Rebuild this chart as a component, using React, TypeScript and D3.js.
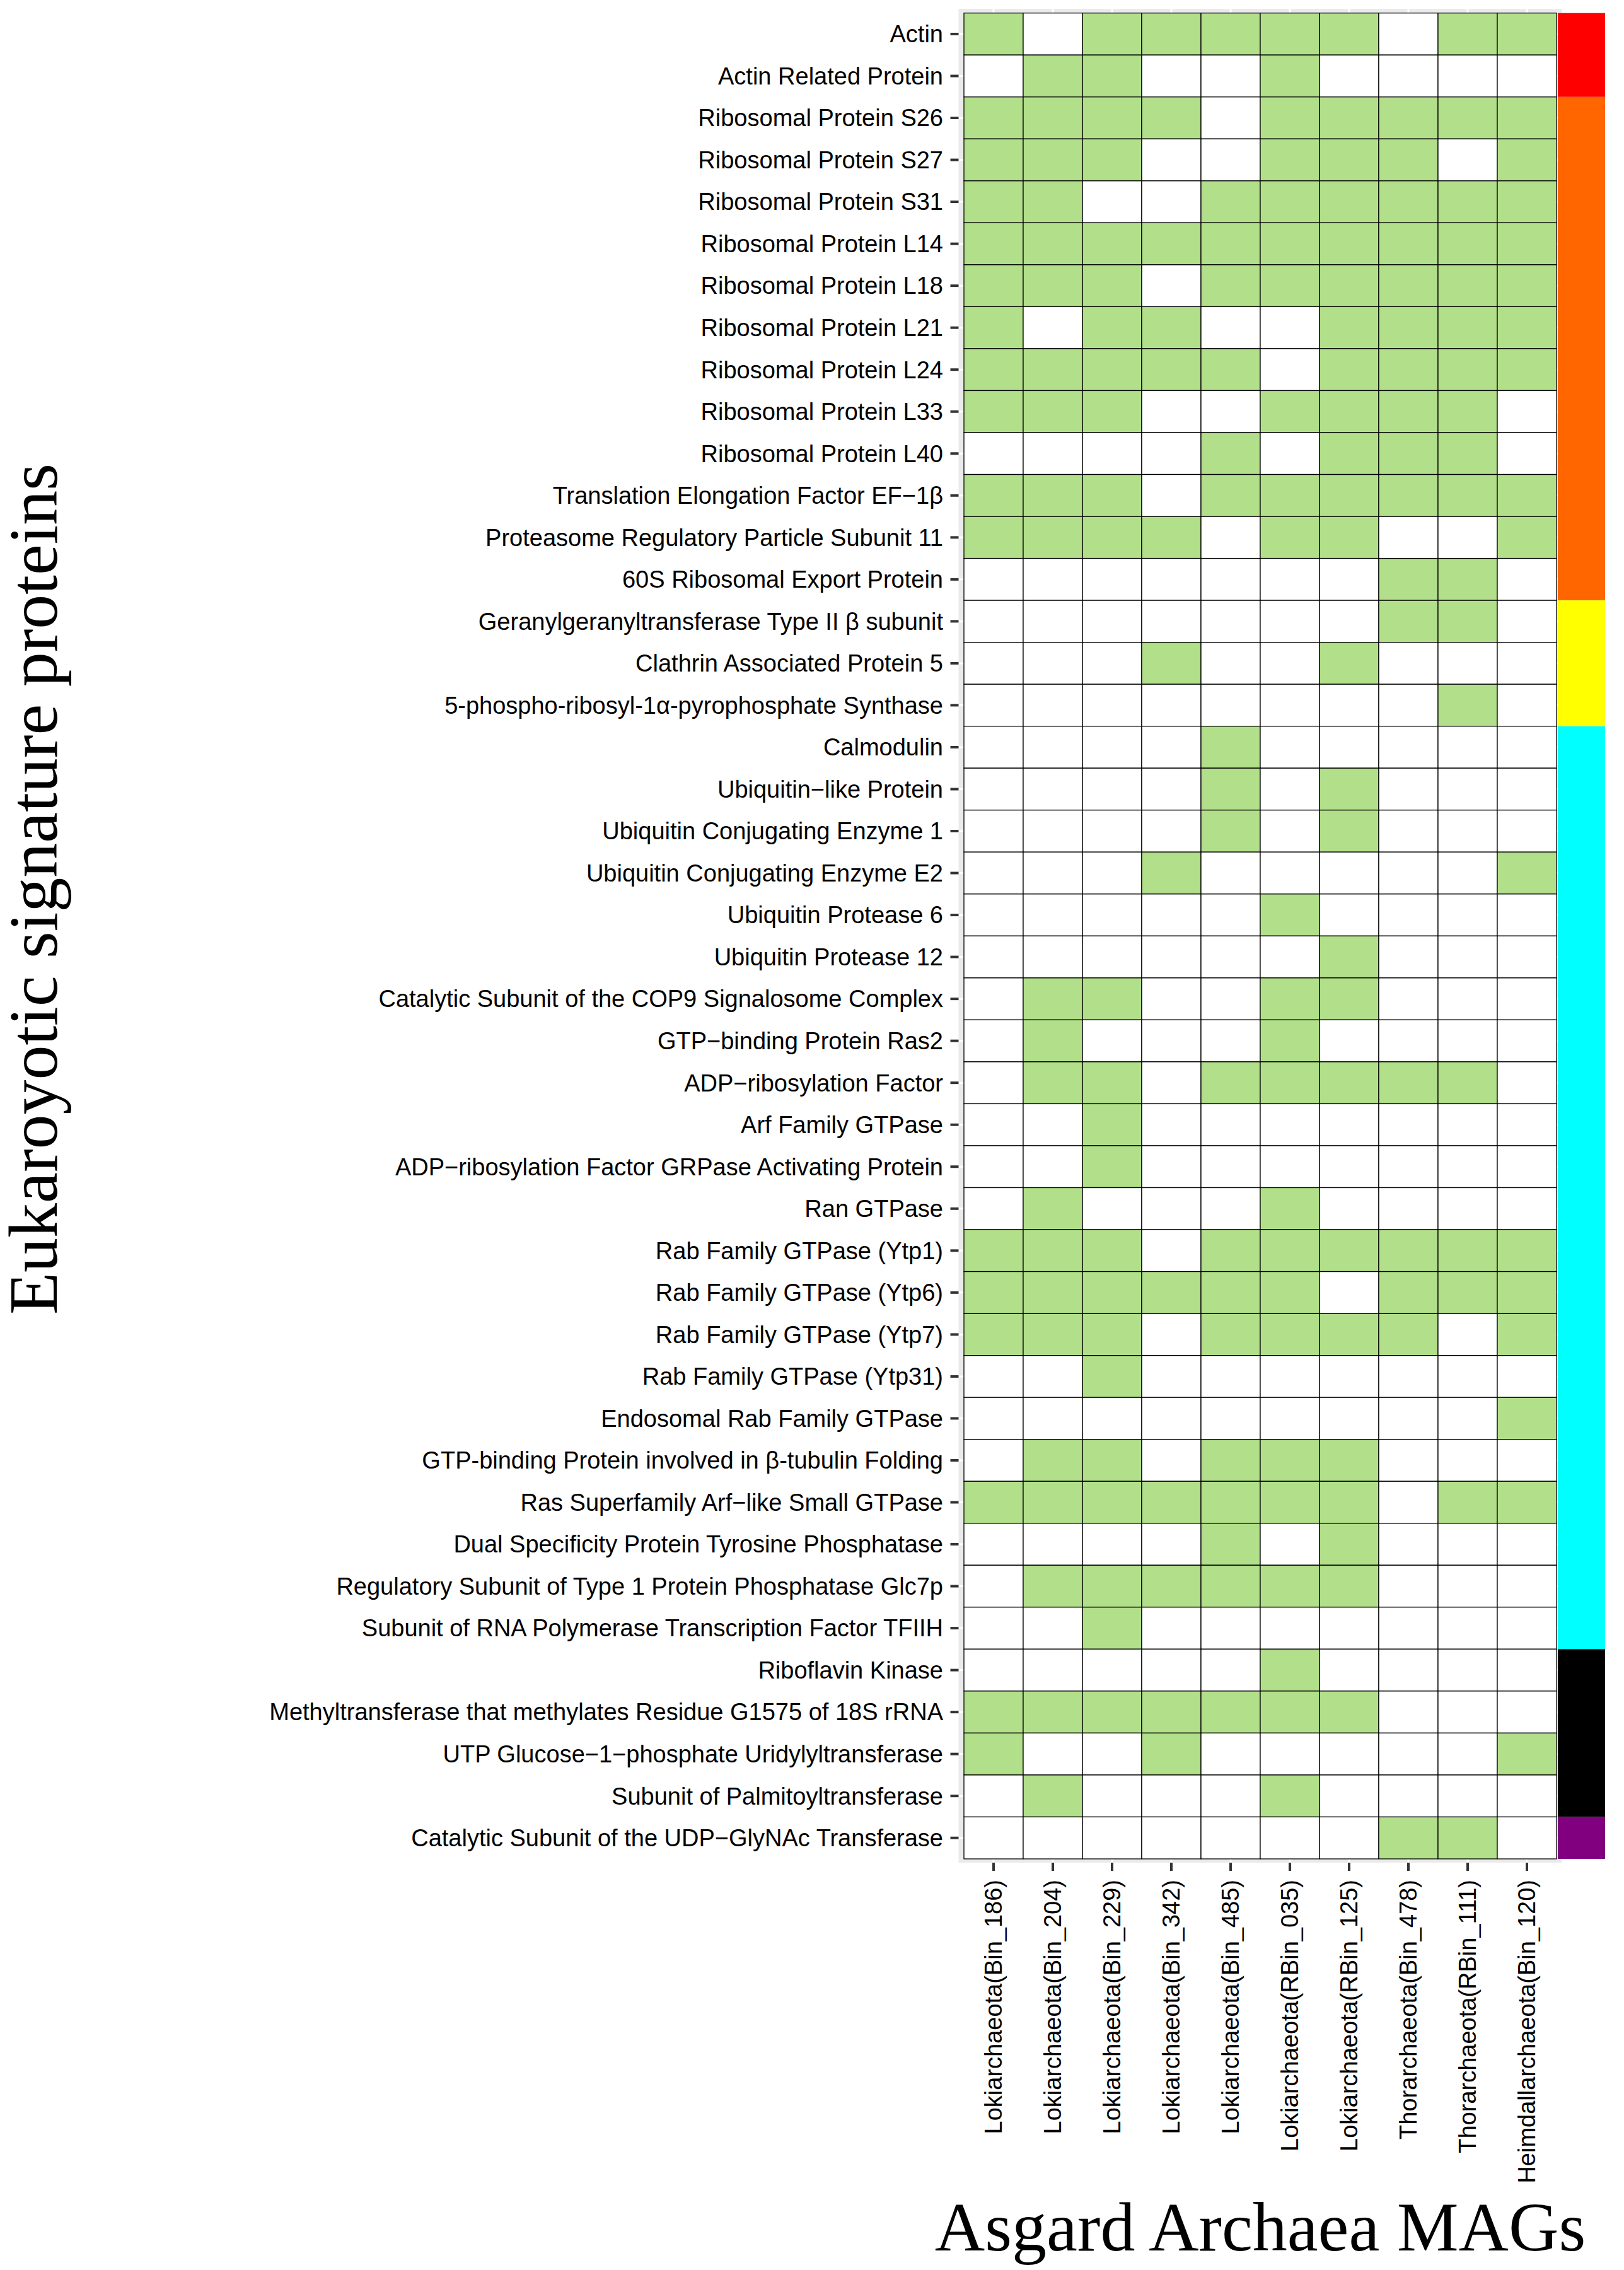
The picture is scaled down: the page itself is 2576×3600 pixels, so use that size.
import React from "react";
import * as d3 from "d3";

const proteins: string[] = [
  "Actin",
  "Actin Related Protein",
  "Ribosomal Protein S26",
  "Ribosomal Protein S27",
  "Ribosomal Protein S31",
  "Ribosomal Protein L14",
  "Ribosomal Protein L18",
  "Ribosomal Protein L21",
  "Ribosomal Protein L24",
  "Ribosomal Protein L33",
  "Ribosomal Protein L40",
  "Translation Elongation Factor EF\u22121\u03b2",
  "Proteasome Regulatory Particle Subunit 11",
  "60S Ribosomal Export Protein",
  "Geranylgeranyltransferase Type II \u03b2 subunit",
  "Clathrin Associated Protein 5",
  "5-phospho-ribosyl-1\u03b1-pyrophosphate Synthase",
  "Calmodulin",
  "Ubiquitin\u2212like Protein",
  "Ubiquitin Conjugating Enzyme 1",
  "Ubiquitin Conjugating Enzyme E2",
  "Ubiquitin Protease 6",
  "Ubiquitin Protease 12",
  "Catalytic Subunit of the COP9 Signalosome Complex",
  "GTP\u2212binding Protein Ras2",
  "ADP\u2212ribosylation Factor",
  "Arf Family GTPase",
  "ADP\u2212ribosylation Factor GRPase Activating Protein",
  "Ran GTPase",
  "Rab Family GTPase (Ytp1)",
  "Rab Family GTPase (Ytp6)",
  "Rab Family GTPase (Ytp7)",
  "Rab Family GTPase (Ytp31)",
  "Endosomal Rab Family GTPase",
  "GTP-binding Protein involved in \u03b2-tubulin Folding",
  "Ras Superfamily Arf\u2212like Small GTPase",
  "Dual Specificity Protein Tyrosine Phosphatase",
  "Regulatory Subunit of Type 1 Protein Phosphatase Glc7p",
  "Subunit of RNA Polymerase Transcription Factor TFIIH",
  "Riboflavin Kinase",
  "Methyltransferase that methylates Residue G1575 of 18S rRNA",
  "UTP Glucose\u22121\u2212phosphate Uridylyltransferase",
  "Subunit of Palmitoyltransferase",
  "Catalytic Subunit of the UDP\u2212GlyNAc Transferase",
];

const mags: string[] = [
  "Lokiarchaeota(Bin_186)",
  "Lokiarchaeota(Bin_204)",
  "Lokiarchaeota(Bin_229)",
  "Lokiarchaeota(Bin_342)",
  "Lokiarchaeota(Bin_485)",
  "Lokiarchaeota(RBin_035)",
  "Lokiarchaeota(RBin_125)",
  "Thorarchaeota(Bin_478)",
  "Thorarchaeota(RBin_111)",
  "Heimdallarchaeota(Bin_120)",
];

// presence (1) / absence (0), one row per protein, columns in order of mags
const presence: number[][] = [
  [1, 0, 1, 1, 1, 1, 1, 0, 1, 1],
  [0, 1, 1, 0, 0, 1, 0, 0, 0, 0],
  [1, 1, 1, 1, 0, 1, 1, 1, 1, 1],
  [1, 1, 1, 0, 0, 1, 1, 1, 0, 1],
  [1, 1, 0, 0, 1, 1, 1, 1, 1, 1],
  [1, 1, 1, 1, 1, 1, 1, 1, 1, 1],
  [1, 1, 1, 0, 1, 1, 1, 1, 1, 1],
  [1, 0, 1, 1, 0, 0, 1, 1, 1, 1],
  [1, 1, 1, 1, 1, 0, 1, 1, 1, 1],
  [1, 1, 1, 0, 0, 1, 1, 1, 1, 0],
  [0, 0, 0, 0, 1, 0, 1, 1, 1, 0],
  [1, 1, 1, 0, 1, 1, 1, 1, 1, 1],
  [1, 1, 1, 1, 0, 1, 1, 0, 0, 1],
  [0, 0, 0, 0, 0, 0, 0, 1, 1, 0],
  [0, 0, 0, 0, 0, 0, 0, 1, 1, 0],
  [0, 0, 0, 1, 0, 0, 1, 0, 0, 0],
  [0, 0, 0, 0, 0, 0, 0, 0, 1, 0],
  [0, 0, 0, 0, 1, 0, 0, 0, 0, 0],
  [0, 0, 0, 0, 1, 0, 1, 0, 0, 0],
  [0, 0, 0, 0, 1, 0, 1, 0, 0, 0],
  [0, 0, 0, 1, 0, 0, 0, 0, 0, 1],
  [0, 0, 0, 0, 0, 1, 0, 0, 0, 0],
  [0, 0, 0, 0, 0, 0, 1, 0, 0, 0],
  [0, 1, 1, 0, 0, 1, 1, 0, 0, 0],
  [0, 1, 0, 0, 0, 1, 0, 0, 0, 0],
  [0, 1, 1, 0, 1, 1, 1, 1, 1, 0],
  [0, 0, 1, 0, 0, 0, 0, 0, 0, 0],
  [0, 0, 1, 0, 0, 0, 0, 0, 0, 0],
  [0, 1, 0, 0, 0, 1, 0, 0, 0, 0],
  [1, 1, 1, 0, 1, 1, 1, 1, 1, 1],
  [1, 1, 1, 1, 1, 1, 0, 1, 1, 1],
  [1, 1, 1, 0, 1, 1, 1, 1, 0, 1],
  [0, 0, 1, 0, 0, 0, 0, 0, 0, 0],
  [0, 0, 0, 0, 0, 0, 0, 0, 0, 1],
  [0, 1, 1, 0, 1, 1, 1, 0, 0, 0],
  [1, 1, 1, 1, 1, 1, 1, 0, 1, 1],
  [0, 0, 0, 0, 1, 0, 1, 0, 0, 0],
  [0, 1, 1, 1, 1, 1, 1, 0, 0, 0],
  [0, 0, 1, 0, 0, 0, 0, 0, 0, 0],
  [0, 0, 0, 0, 0, 1, 0, 0, 0, 0],
  [1, 1, 1, 1, 1, 1, 1, 0, 0, 0],
  [1, 0, 0, 1, 0, 0, 0, 0, 0, 1],
  [0, 1, 0, 0, 0, 1, 0, 0, 0, 0],
  [0, 0, 0, 0, 0, 0, 0, 1, 1, 0],
];

// category side bar: number of rows per group and colour
const groupSizes: number[] = [2, 12, 3, 22, 4, 1];
const groupColors: string[] = ["#FF0000", "#FF6600", "#FFFF00", "#00FFFF", "#000000", "#800080"];

const W = 2576;
const H = 3600;
const gridLeft = 1529;
const gridRight = 2469;
const gridTop = 20.7;
const gridBottom = 2948;
const panelPad = 8.5;
const barLeft = 2471;
const barRight = 2546;

const presentColor = "#B2DF8A";
const labelFont = "'Liberation Sans', Arial, Helvetica, sans-serif";
const titleFont = "'Liberation Serif', 'Times New Roman', Times, serif";

export default function App() {
  const x = d3.scaleBand<string>().domain(mags).range([gridLeft, gridRight]).padding(0);
  const y = d3.scaleBand<string>().domain(proteins).range([gridTop, gridBottom]).padding(0);
  const bw = x.bandwidth();
  const bh = y.bandwidth();

  // group extents
  const groupStarts = d3.cumsum([0, ...groupSizes]);

  return (
    <svg
      width={W}
      height={H}
      viewBox={`0 0 ${W} ${H}`}
      style={{ position: "absolute", left: 0, top: 0, background: "#fff" }}
    >
      <rect x={0} y={0} width={W} height={H} fill="#fff" />
      {/* panel background */}
      <rect
        x={gridLeft - panelPad}
        y={gridTop - 6.7}
        width={gridRight - gridLeft + 2 * panelPad}
        height={gridBottom - gridTop + 6.7 + 6}
        fill="#EBEBEB"
      />
      {/* major grid lines */}
      {mags.map((m) => (
        <line
          key={"gx" + m}
          x1={x(m)! + bw / 2}
          x2={x(m)! + bw / 2}
          y1={gridTop - 6.7}
          y2={gridBottom + 6}
          stroke="#fff"
          strokeWidth={3}
        />
      ))}
      {proteins.map((p) => (
        <line
          key={"gy" + p}
          x1={gridLeft - panelPad}
          x2={gridRight + panelPad}
          y1={y(p)! + bh / 2}
          y2={y(p)! + bh / 2}
          stroke="#fff"
          strokeWidth={3}
        />
      ))}
      {/* tiles */}
      {proteins.map((p, i) =>
        mags.map((m, j) => (
          <rect
            key={p + m}
            x={x(m)!}
            y={y(p)!}
            width={bw}
            height={bh}
            fill={presence[i][j] ? presentColor : "#FFFFFF"}
            stroke="#000"
            strokeWidth={1.3}
          />
        ))
      )}
      {/* category bar */}
      {groupSizes.map((n, k) => {
        const y0 = y(proteins[groupStarts[k]])!;
        return (
          <rect
            key={"g" + k}
            x={barLeft}
            y={y0}
            width={barRight - barLeft}
            height={n * bh}
            fill={groupColors[k]}
          />
        );
      })}
      {/* y axis ticks & labels */}
      {proteins.map((p) => {
        const cy = y(p)! + bh / 2;
        return (
          <g key={"yl" + p}>
            <line x1={gridLeft - panelPad - 13} x2={gridLeft - panelPad} y1={cy} y2={cy} stroke="#333" strokeWidth={4} />
            <text
              x={1496}
              y={cy}
              dy="0.35em"
              textAnchor="end"
              fontFamily={labelFont}
              fontSize={38}
              fill="#000"
            >
              {p}
            </text>
          </g>
        );
      })}
      {/* x axis ticks & labels */}
      {mags.map((m) => {
        const cx = x(m)! + bw / 2;
        const ty = gridBottom + 6;
        return (
          <g key={"xl" + m}>
            <line x1={cx} x2={cx} y1={ty} y2={ty + 13} stroke="#333" strokeWidth={4} />
            <text
              transform={`translate(${cx},${2981}) rotate(-90)`}
              dy="0.35em"
              textAnchor="end"
              fontFamily={labelFont}
              fontSize={38}
              fill="#000"
            >
              {m}
            </text>
          </g>
        );
      })}
      {/* axis titles */}
      <text
        x={(gridLeft + gridRight) / 2}
        y={3569}
        textAnchor="middle"
        fontFamily={titleFont}
        fontSize={110}
        fill="#000"
      >
        Asgard Archaea MAGs
      </text>
      <text
        transform={`translate(90,1410) rotate(-90)`}
        textAnchor="middle"
        fontFamily={titleFont}
        fontSize={110}
        fill="#000"
      >
        Eukaroyotic signature proteins
      </text>
    </svg>
  );
}
